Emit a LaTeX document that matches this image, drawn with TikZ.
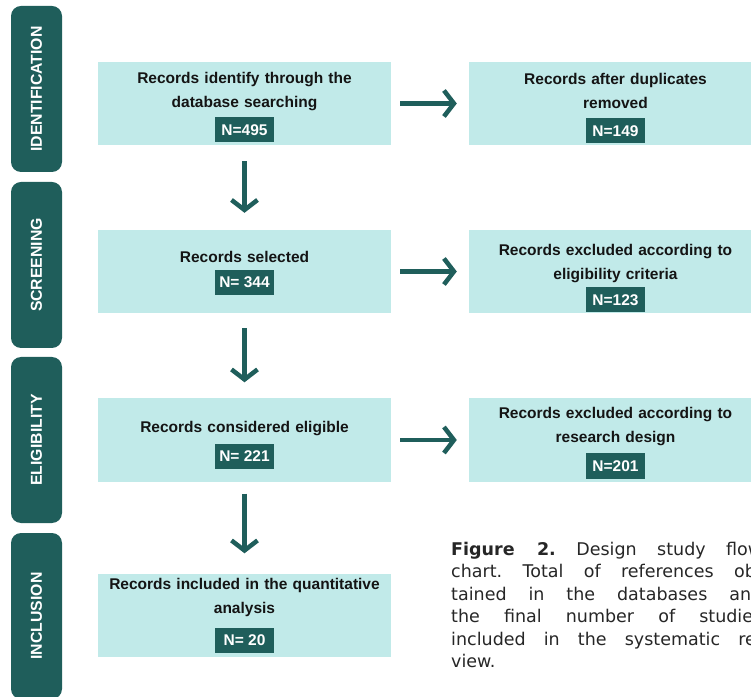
\documentclass[tikz,border=0pt]{standalone}
\usepackage{fontspec}
\setmainfont{Liberation Sans}
\newfontfamily\capfont{DejaVu Sans}
\usetikzlibrary{positioning,arrows.meta}
\definecolor{flowteal}{HTML}{1F5E5B}
\definecolor{flowcyan}{HTML}{C1EAE9}

\begin{document}
\begin{tikzpicture}[x=1pt,y=1pt]
    \tikzstyle{every node} = [font=\bfseries]
    \tikzstyle{stage} = [fill=flowteal, rounded corners=10pt, minimum width=51pt, minimum height=166pt, inner sep=0pt]
    \tikzstyle{stagetext} = [text=white, rotate=90, font=\fontsize{15.8}{18}\selectfont\bfseries]
    \tikzstyle{record} = [fill=flowcyan, minimum width=293pt, minimum height=83pt, inner sep=0pt]
    \tikzstyle{rectitle} = [text width=290pt, align=center, inner sep=0pt, text=black!92, font=\fontsize{15.5}{24}\selectfont\bfseries]
    \tikzstyle{nbox} = [fill=flowteal, text=white, minimum width=59pt, minimum height=25pt, inner sep=0pt, font=\fontsize{15.5}{18}\selectfont\bfseries]
    \tikzstyle{flowarrow} = [draw=flowteal, line width=4.5pt, -{Straight Barb[length=10pt,width=26pt]}]
    \useasboundingbox (0,0) rectangle (751,696);
    \clip (0,0) rectangle (751,696);

    % stage bars
    \node[stage] (identBar) at (36.5,607) {};
    \node[stagetext] (identText) at (identBar) {IDENTIFICATION};
    \node[stage] (screenBar) at (36.5,431) {};
    \node[stagetext] (screenText) at (screenBar) {SCREENING};
    \node[stage] (eligBar) at (36.5,256) {};
    \node[stagetext] (eligText) at (eligBar) {ELIGIBILITY};
    \node[stage] (inclBar) at (36.5,80) {};
    \node[stagetext] (inclText) at (inclBar) {INCLUSION};

    % place nodes
    \node[record] (identified) at (244.5,592.5) {};
    \node[nbox,above=2.5pt of identified.south] (identifiedN) {N=495};
    \node[rectitle,above=6.5pt of identifiedN] {Records identify through the\\database searching};

    \node[record] (noDuplicates) at (615.5,592.5) {};
    \node[nbox,above=1.5pt of noDuplicates.south] (noDuplicatesN) {N=149};
    \node[rectitle,above=9pt of noDuplicatesN] {Records after duplicates\\removed};

    \node[record] (selected) at (244.5,424.5) {};
    \node[nbox,above=18pt of selected.south] (selectedN) {N= 344};
    \node[rectitle,above=7pt of selectedN] {Records selected};

    \node[record] (exclCriteria) at (615.5,424.5) {};
    \node[nbox,above=0.5pt of exclCriteria.south] (exclCriteriaN) {N=123};
    \node[rectitle,above=4.5pt of exclCriteriaN] {Records excluded according to\\eligibility criteria};

    \node[record] (eligible) at (244.5,256) {};
    \node[nbox,above=12.5pt of eligible.south] (eligibleN) {N= 221};
    \node[rectitle,above=8pt of eligibleN] {Records considered eligible};

    \node[record] (exclDesign) at (615.5,256) {};
    \node[nbox,above=3pt of exclDesign.south] (exclDesignN) {N=201};
    \node[rectitle,above=7pt of exclDesignN] {Records excluded according to\\research design};

    \node[record] (included) at (244.5,81) {};
    \node[nbox,above=4pt of included.south] (includedN) {N= 20};
    \node[rectitle,above=10pt of includedN] {Records included in the quantitative\\analysis};

    % Connections
    \draw[flowarrow, shorten <=9pt, shorten >=12pt] (identified.east) -- (noDuplicates.west);
    \draw[flowarrow, shorten <=9pt, shorten >=12pt] (selected.east) -- (exclCriteria.west);
    \draw[flowarrow, shorten <=9pt, shorten >=12pt] (eligible.east) -- (exclDesign.west);
    \draw[flowarrow, shorten <=16pt, shorten >=17pt] (identified.south) -- (selected.north);
    \draw[flowarrow, shorten <=15pt, shorten >=16pt] (selected.south) -- (eligible.north);
    \draw[flowarrow, shorten <=12pt, shorten >=20pt] (eligible.south) -- (included.north);

    % caption
    \node[anchor=north west, inner sep=0pt, text width=311pt, align=justify, text=black!85,
      font=\capfont\fontsize{17.5}{22.5}\selectfont\frenchspacing] (caption) at (451,154)
      {\textbf{Figure 2.} Design study flow\linebreak chart. Total of references ob-\linebreak tained in the databases and\linebreak the final number of studies\linebreak included in the systematic re-\linebreak view.};
  \end{tikzpicture}
\end{document}
